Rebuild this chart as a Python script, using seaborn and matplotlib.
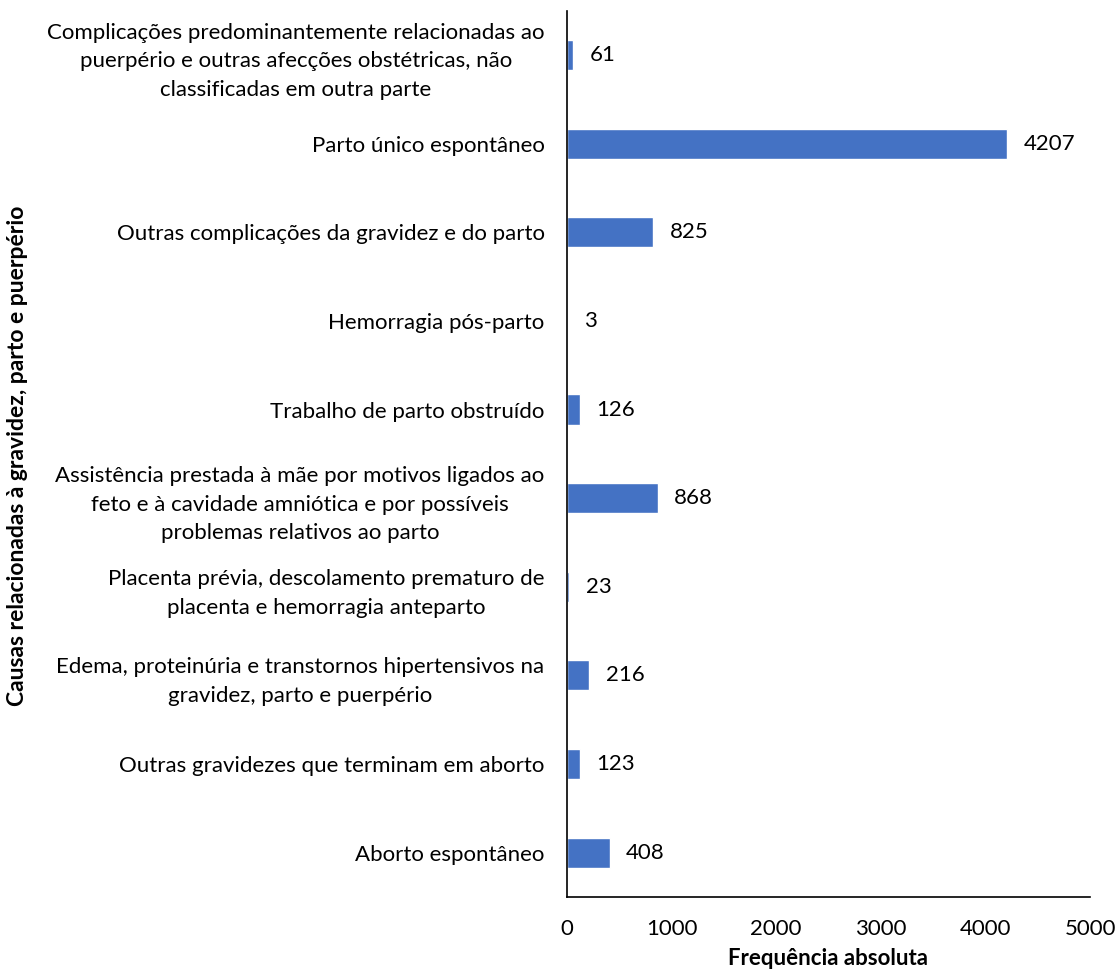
import matplotlib

matplotlib.use("Agg")
import matplotlib.pyplot as plt
import pandas as pd
import seaborn as sns

# Categories, top to bottom as drawn
causes = [
    "Complicações predominantemente relacionadas ao\npuerpério e outras afecções obstétricas, não\nclassificadas em outra parte",
    "Parto único espontâneo",
    "Outras complicações da gravidez e do parto",
    "Hemorragia pós-parto",
    "Trabalho de parto obstruído",
    "Assistência prestada à mãe por motivos ligados ao\nfeto e à cavidade amniótica e por possíveis\nproblemas relativos ao parto",
    "Placenta prévia, descolamento prematuro de\nplacenta e hemorragia anteparto",
    "Edema, proteinúria e transtornos hipertensivos na\ngravidez, parto e puerpério",
    "Outras gravidezes que terminam em aborto",
    "Aborto espontâneo",
]
counts = [61, 4207, 825, 3, 126, 868, 23, 216, 123, 408]
x_ticks = [0, 1000, 2000, 3000, 4000, 5000]

df = pd.DataFrame({"causa": causes, "freq": counts})

sns.set_style("white")
plt.rcParams["font.family"] = ["Lato", "DejaVu Sans"]
plt.rcParams["text.color"] = "black"
plt.rcParams["axes.labelcolor"] = "black"
plt.rcParams["xtick.color"] = "black"
plt.rcParams["ytick.color"] = "black"

fig = plt.figure(figsize=(11.18, 9.75), dpi=100)
ax = fig.add_axes([0.507, 0.08, 0.468, 0.909])

sns.barplot(data=df, x="freq", y="causa", color="#4472C4", width=0.34,
            saturation=1, ax=ax)

# Value labels next to each bar
for container in ax.containers:
    ax.bar_label(container, padding=12, fontsize=16, color="black")

ax.set_xlim(0, 5000)
ax.set_xticks(x_ticks)
ax.set_xticklabels([str(t) for t in x_ticks])
ax.tick_params(axis="x", length=0, pad=16, labelsize=16)
ax.tick_params(axis="y", length=0, pad=16, labelsize=16)
for lbl in ax.get_yticklabels():
    lbl.set_horizontalalignment("right")
    lbl.set_multialignment("center")
    lbl.set_linespacing(1.55)

sns.despine(ax=ax, top=True, right=True)
for side in ["left", "bottom"]:
    ax.spines[side].set_color("black")
    ax.spines[side].set_linewidth(1.2)

ax.set_xlabel("Frequência absoluta", fontsize=16, fontweight="bold", labelpad=6)
ax.set_ylabel("")
fig.text(0.016, 0.533, "Causas relacionadas à gravidez, parto e puerpério",
         rotation=90, ha="center", va="center", fontsize=16.5, fontweight="bold")

fig.savefig("out.png", dpi=100)
